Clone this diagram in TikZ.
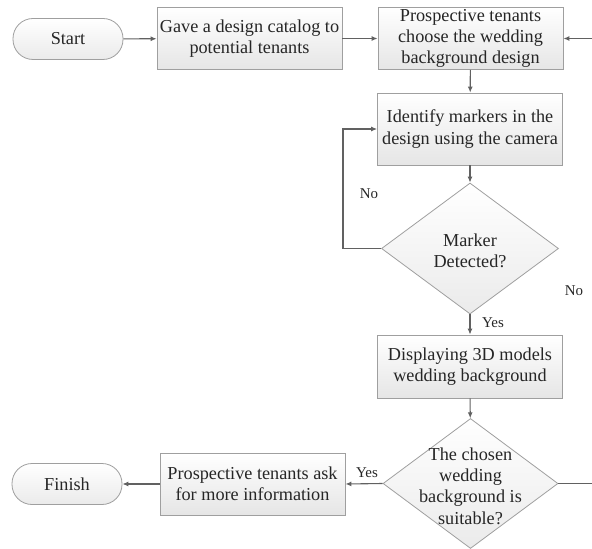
\documentclass[tikz,border=0pt]{standalone}
\usepackage{fontspec}
\setmainfont{Liberation Serif}
\usetikzlibrary{shapes.geometric,arrows.meta}
\begin{document}
\begin{tikzpicture}[x=1bp,y=-1bp,
  every node/.style={font=\fontsize{18.3}{21.5}\selectfont, align=center, text=black!85},
  procbox/.style={draw=gray!75, line width=0.8bp, top color=white, bottom color=gray!20,
    minimum width=185bp, minimum height=62bp, inner sep=0pt},
  termbox/.style={draw=gray!75, line width=0.8bp, top color=white, bottom color=gray!16,
    rounded corners=20bp, minimum width=110bp, minimum height=41bp, inner sep=0pt},
  decbox/.style={diamond, draw=gray!75, line width=0.8bp, top color=white, bottom color=gray!16,
    minimum width=177bp, minimum height=131bp, inner sep=0pt},
  lbl/.style={font=\fontsize{15}{17}\selectfont},
  arr/.style={draw=black!62, line width=1.1bp, -{Latex[length=6bp,width=5bp]}}]
\useasboundingbox (0,0) rectangle (592,549);
\node[termbox] (start) at (68,39) {Start};
\node[procbox] (b1) at (249.5,38.5) {Gave a design catalog to\\potential tenants};
\node[procbox] (b2) at (470.5,38.5) {Prospective tenants\\choose the wedding\\background design};
\node[procbox, minimum height=72bp] (b3) at (470,129) {Identify markers in the\\design using the camera};
\node[decbox] (d1) at (470,248.5) {};
\node (t1) at (470,251) {Marker\\Detected?};
\node[procbox, minimum height=63bp] (b4) at (470,366.5) {Displaying 3D models\\wedding background};
\node[decbox, minimum height=130bp, minimum width=175bp] (d2) at (470.5,483.5) {};
\node (t2) at (470.5,486) {The chosen\\wedding\\background is\\suitable?};
\node[procbox] (b5) at (252.5,484) {Prospective tenants ask\\for more information};
\node[termbox] (fin) at (67,484) {Finish};
\coordinate (l1) at (343,248.5);
\coordinate (r1) at (600,483.5);
\coordinate (r2) at (600,38.5);
\draw[arr] (start) -- (b1);
\draw[arr] (b1) -- (b2);
\draw[arr] (b2) -- (b3);
\draw[arr] (b3) -- (d1);
\draw[arr] (d1.west) -- (l1) |- (b3.west);
\draw[arr] (d1) -- (b4);
\draw[arr] (b4) -- (d2);
\draw[arr] (d2.west) -- (b5.east);
\draw[arr] (b5) -- (fin);
\draw[arr] (d2.east) -- (r1) -- (r2) -- (b2.east);
\node[lbl] (no1) at (369,194) {No};
\node[lbl] (no2) at (574,291) {No};
\node[lbl] (yes1) at (493,323) {Yes};
\node[lbl] (yes2) at (367,473) {Yes};
\end{tikzpicture}
\end{document}
